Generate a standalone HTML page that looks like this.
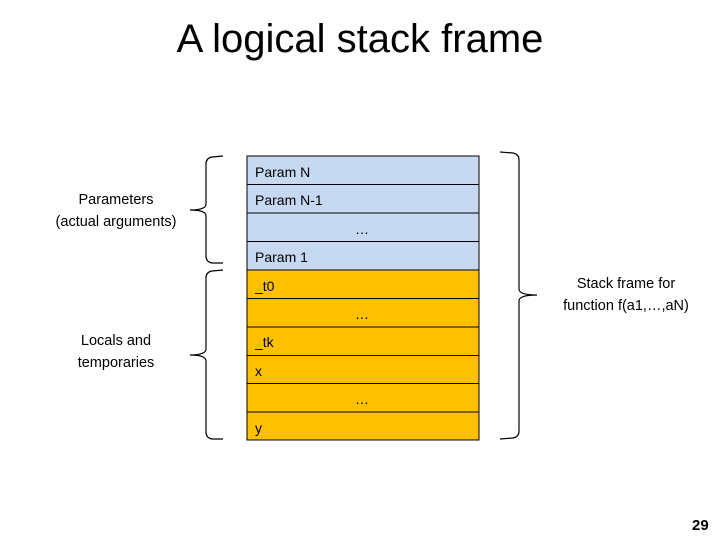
<!DOCTYPE html>
<html><head><style>
body{margin:0;width:720px;height:540px;background:#fff;position:relative;font-family:"Liberation Sans",sans-serif;overflow:hidden}
.t{position:absolute;white-space:nowrap}
</style></head><body>
<div class="t" style="left:0;width:720px;text-align:center;top:17px;font-size:40px;color:#000">A logical stack frame</div>
<svg width="720" height="540" style="position:absolute;left:0;top:0">
<g stroke="#000" stroke-width="1">
<rect x="247" y="156" width="232" height="114" fill="#c6d9f1"/>
<rect x="247" y="270" width="232" height="170" fill="#ffc000"/>
<line x1="247" y1="184.5" x2="479" y2="184.5"/>
<line x1="247" y1="213" x2="479" y2="213"/>
<line x1="247" y1="241.5" x2="479" y2="241.5"/>
<line x1="247" y1="298.5" x2="479" y2="298.5"/>
<line x1="247" y1="327" x2="479" y2="327"/>
<line x1="247" y1="355.5" x2="479" y2="355.5"/>
<line x1="247" y1="383.5" x2="479" y2="383.5"/>
<line x1="247" y1="412" x2="479" y2="412"/>
</g>
<g fill="none" stroke="#000" stroke-width="1.2">
<path d="M223 156 L212 157 Q206 158 206 164 L206 204 Q206 210 190 210 Q206 210 206 216 L206 256 Q206 262 212 263 L223 263"/>
<path d="M223 270 L212 271 Q206 272 206 278 L206 349 Q206 355 190 355 Q206 355 206 361 L206 432 Q206 438 212 439 L223 439"/>
<path d="M500 152 L513 153 Q519 154 519 160 L519 289 Q519 295 537 295 Q519 295 519 301 L519 431 Q519 437 513 438 L500 439"/>
</g>
</svg>
<div style="position:absolute;left:255px;font-size:14px;color:#000">
<div class="t" style="top:164px">Param N</div>
<div class="t" style="top:192px">Param N-1</div>
<div class="t" style="top:249px">Param 1</div>
<div class="t" style="top:278px">_t0</div>
<div class="t" style="top:334px">_tk</div>
<div class="t" style="top:363px">x</div>
<div class="t" style="top:420px">y</div>
</div>
<div class="t" style="left:355px;top:221px;font-size:14px">…</div>
<div class="t" style="left:355px;top:306px;font-size:14px">…</div>
<div class="t" style="left:355px;top:391px;font-size:14px">…</div>
<div class="t" style="left:40px;width:152px;text-align:center;top:189px;font-size:14.5px;line-height:22px">Parameters<br>(actual arguments)</div>
<div class="t" style="left:40px;width:152px;text-align:center;top:330px;font-size:14.5px;line-height:22px">Locals and<br>temporaries</div>
<div class="t" style="left:545px;width:162px;text-align:center;top:273px;font-size:14.5px;line-height:22px">Stack frame for<br>function f(a1,…,aN)</div>
<div class="t" style="left:692px;top:517px;font-size:15px;font-weight:bold">29</div>
</body></html>
